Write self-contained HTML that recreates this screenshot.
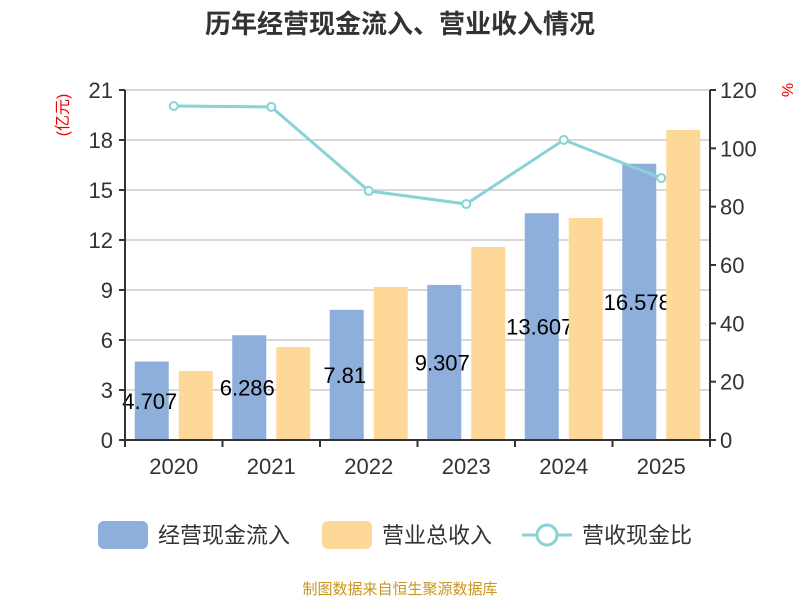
<!DOCTYPE html>
<html><head><meta charset="utf-8"><style>
body{margin:0;background:#fff;}
svg text{font-family:"Liberation Sans","Noto Sans CJK SC",sans-serif;}
</style></head><body>
<svg id="c" width="800" height="600" xmlns="http://www.w3.org/2000/svg">
<text x="400" y="33" text-anchor="middle" font-size="26" font-weight="bold" fill="#333">历年经营现金流入、营业收入情况</text>
<g id="grid"></g><g id="bars"></g><g id="axes"></g><g id="line"></g>
<text x="68" y="115" transform="rotate(-90 68 115)" text-anchor="middle" font-size="16" fill="#e00">(亿元)</text>
<text x="782" y="90" transform="rotate(90 782 90)" text-anchor="middle" font-size="16" fill="#e00">%</text>
<g>
<rect x="98" y="521" width="50" height="28" rx="6" fill="#8eaedb"/>
<text x="158" y="543" font-size="22" fill="#333">经营现金流入</text>
<rect x="322" y="521" width="50" height="28" rx="6" fill="#fdd898"/>
<text x="382" y="543" font-size="22" fill="#333">营业总收入</text>
<line x1="522" y1="535" x2="572" y2="535" stroke="#88d3d6" stroke-width="3"/>
<circle cx="547" cy="535" r="10" fill="#fff" stroke="#88d3d6" stroke-width="3"/>
<text x="582" y="543" font-size="22" fill="#333">营收现金比</text>
</g>
<text x="400" y="594" text-anchor="middle" font-size="15" fill="#c8961e">制图数据来自恒生聚源数据库</text>
</svg>
<script>
const categories=["2020","2021","2022","2023","2024","2025"];
const cashInflow=[4.707,6.286,7.81,9.307,13.607,16.578];
const revenue=[4.14,5.58,9.18,11.58,13.32,18.6];
const ratio=[114.5,114.2,85.4,80.9,102.9,89.8];
const leftTicks=[0,3,6,9,12,15,18,21];
const rightTicks=[0,20,40,60,80,100,120];
const NS="http://www.w3.org/2000/svg";
const L=125,R=710,T=90,B=440,cw=(R-L)/categories.length;
const yL=v=>B-(v/21)*(B-T), yR=v=>B-(v/120)*(B-T), xc=i=>L+cw*(i+0.5);
function mk(p,t,a){const e=document.createElementNS(NS,t);for(const k in a)e.setAttribute(k,a[k]);document.getElementById(p).appendChild(e);return e;}
leftTicks.forEach(v=>{
 const l=mk("grid","line",{x1:L,x2:R,y1:yL(v),y2:yL(v),stroke:"#ccc","stroke-width":1.5});
 
 
 const t=mk("axes","text",{x:L-12,y:yL(v)+8,"text-anchor":"end","font-size":22,fill:"#333"});t.textContent=v;
 
 
 mk("axes","line",{x1:L-6,x2:L,y1:yL(v),y2:yL(v),stroke:"#333","stroke-width":2});
});
rightTicks.forEach(v=>{
 const t=mk("axes","text",{x:R+10,y:yR(v)+8,"font-size":22,fill:"#333"});t.textContent=v;
 
 
 mk("axes","line",{x1:R,x2:R+6,y1:yR(v),y2:yR(v),stroke:"#333","stroke-width":2});
});
mk("axes","line",{x1:L,x2:L,y1:T,y2:B,stroke:"#333","stroke-width":2});
mk("axes","line",{x1:R,x2:R,y1:T,y2:B,stroke:"#333","stroke-width":2});
mk("axes","line",{x1:L,x2:R,y1:B,y2:B,stroke:"#333","stroke-width":2});
for(let i=0;i<=categories.length;i++)mk("axes","line",{x1:L+cw*i,x2:L+cw*i,y1:B,y2:B+7,stroke:"#333","stroke-width":2});
categories.forEach((c,i)=>{
 const t=mk("axes","text",{x:xc(i),y:B+34,"text-anchor":"middle","font-size":22,fill:"#333"});t.textContent=c;
 
 
 const b=mk("bars","rect",{x:xc(i)-39,y:yL(cashInflow[i]),width:34,height:B-yL(cashInflow[i]),fill:"#8eaedb"});
 
 
 const lb=mk("bars","text",{x:xc(i)-24,y:(yL(cashInflow[i])+B)/2+8,"text-anchor":"middle","font-size":22,fill:"#000"});lb.textContent=cashInflow[i];
 
 
});
categories.forEach((c,i)=>{
 const b=mk("bars","rect",{x:xc(i)+5,y:yL(revenue[i]),width:34,height:B-yL(revenue[i]),fill:"#fdd898"});
 
 
});
const pl=mk("line","polyline",{points:ratio.map((v,i)=>xc(i)+","+yR(v)).join(" "),fill:"none",stroke:"#88d3d6","stroke-width":3});


ratio.forEach((v,i)=>{
 const p=mk("line","circle",{cx:xc(i),cy:yR(v),r:4,fill:"#fff",stroke:"#88d3d6","stroke-width":2});
 
 
});
</script>
</body></html>
